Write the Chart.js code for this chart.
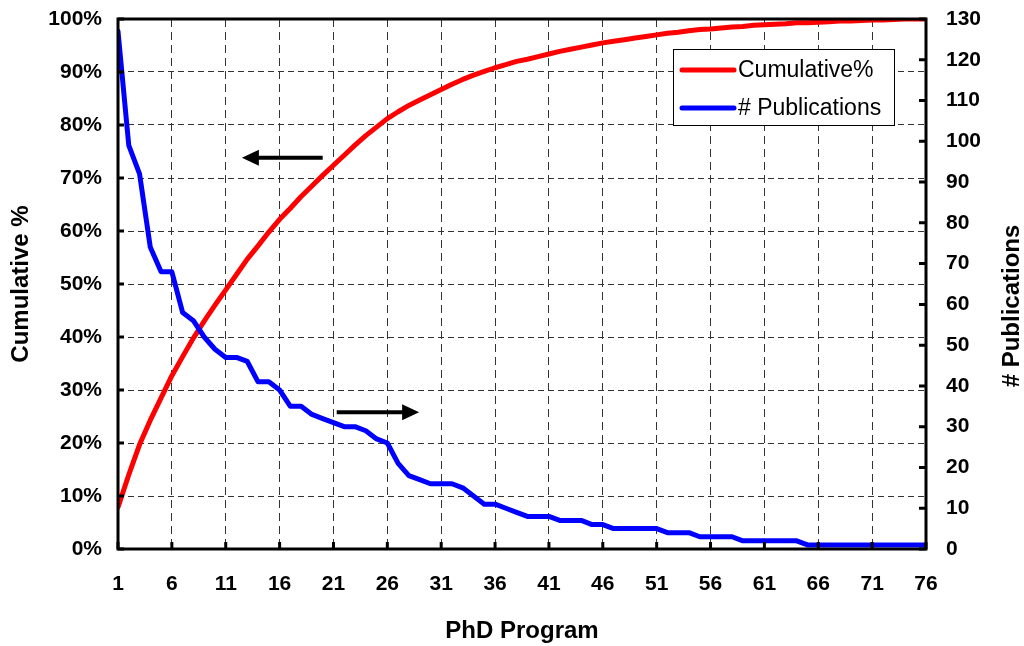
<!DOCTYPE html>
<html>
<head>
<meta charset="utf-8">
<script src="https://cdn.jsdelivr.net/npm/chart.js@4"></script>
<style>
  html, body { margin: 0; padding: 0; background: #fff; }
  #wrap { width: 1024px; height: 646px; }
</style>
</head>
<body>
<div id="wrap"><canvas id="pareto"></canvas></div>
<script>
var programs = [1, 2, 3, 4, 5, 6, 7, 8, 9, 10, 11, 12, 13, 14, 15, 16, 17, 18, 19, 20,
    21, 22, 23, 24, 25, 26, 27, 28, 29, 30, 31, 32, 33, 34, 35, 36, 37, 38, 39, 40,
    41, 42, 43, 44, 45, 46, 47, 48, 49, 50, 51, 52, 53, 54, 55, 56, 57, 58, 59, 60,
    61, 62, 63, 64, 65, 66, 67, 68, 69, 70, 71, 72, 73, 74, 75, 76];
var publications = [127, 99, 92, 74, 68, 68, 58, 56, 52, 49,
    47, 47, 46, 41, 41, 39, 35, 35, 33, 32,
    31, 30, 30, 29, 27, 26, 21, 18, 17, 16,
    16, 16, 15, 13, 11, 11, 10, 9, 8, 8,
    8, 7, 7, 7, 6, 6, 5, 5, 5, 5,
    5, 4, 4, 4, 3, 3, 3, 3, 2, 2,
    2, 2, 2, 2, 1, 1, 1, 1, 1, 1,
    1, 1, 1, 1, 1, 1];
var cumulative = [7.9, 14.0, 19.7, 24.3, 28.5, 32.7, 36.3, 39.8, 43.0, 46.0,
    48.9, 51.8, 54.7, 57.2, 59.8, 62.2, 64.3, 66.5, 68.5, 70.5,
    72.4, 74.3, 76.2, 78.0, 79.6, 81.2, 82.5, 83.7, 84.7, 85.7,
    86.7, 87.7, 88.6, 89.4, 90.1, 90.8, 91.4, 92.0, 92.4, 92.9,
    93.4, 93.9, 94.3, 94.7, 95.1, 95.5, 95.8, 96.1, 96.4, 96.7,
    97.0, 97.3, 97.5, 97.8, 98.0, 98.1, 98.3, 98.5, 98.6, 98.8,
    98.9, 99.0, 99.1, 99.3, 99.3, 99.4, 99.5, 99.6, 99.6, 99.7,
    99.8, 99.8, 99.9, 100.0, 100.0, 100.0];
var xTicks = [1, 6, 11, 16, 21, 26, 31, 36, 41, 46, 51, 56, 61, 66, 71, 76];

var FONT = '"Liberation Sans", Arial, sans-serif';

function points(values) {
    return programs.map(function(p, i) { return { x: p, y: values[i] }; });
}

function fixWidth(w) {
    return function(scale) {
        scale.width = w;
        scale.paddingTop = 0;
        scale.paddingBottom = 0;
    };
}

// frame, inward tick marks, arrows, legend and the right title
var extras = {
    id: 'extras',
    afterDatasetsDraw: function(chart) {
        var ctx = chart.ctx;
        var a = chart.chartArea;
        var sx = chart.scales.x, sy = chart.scales.y, sy2 = chart.scales.y2;
        ctx.save();
        ctx.strokeStyle = '#000';
        ctx.lineWidth = 3;
        ctx.beginPath();
        sx.ticks.forEach(function(t) {
            var px = sx.getPixelForValue(t.value);
            ctx.moveTo(px, a.bottom); ctx.lineTo(px, a.bottom - 7);
        });
        sy.ticks.forEach(function(t) {
            var py = sy.getPixelForValue(t.value);
            ctx.moveTo(a.left, py); ctx.lineTo(a.left + 6, py);
        });
        sy2.ticks.forEach(function(t) {
            var py = sy2.getPixelForValue(t.value);
            ctx.moveTo(a.right, py); ctx.lineTo(a.right - 7, py);
        });
        ctx.stroke();
        ctx.strokeRect(a.left, a.top, a.right - a.left, a.bottom - a.top);

        // arrows pointing at the axis each line belongs to
        function arrow(x0, x1, yv) {
            var p0 = sx.getPixelForValue(x0), p1 = sx.getPixelForValue(x1);
            var py = sy.getPixelForValue(yv);
            var dir = p1 > p0 ? 1 : -1;
            ctx.fillStyle = '#000';
            ctx.lineWidth = 4;
            ctx.beginPath();
            ctx.moveTo(p0, py); ctx.lineTo(p1 - dir * 14, py);
            ctx.stroke();
            ctx.beginPath();
            ctx.moveTo(p1, py);
            ctx.lineTo(p1 - dir * 17, py - 8);
            ctx.lineTo(p1 - dir * 17, py + 8);
            ctx.closePath();
            ctx.fill();
        }
        arrow(20.0, 12.5, 73.8);
        arrow(21.3, 28.95, 25.8);

        // legend
        var lx = 673, ly = 49, lw = 221, lh = 76;
        ctx.fillStyle = '#fff';
        ctx.fillRect(lx, ly, lw, lh);
        ctx.lineWidth = 1;
        ctx.strokeStyle = '#000';
        ctx.strokeRect(lx + 0.5, ly + 0.5, lw, lh);
        ctx.font = '23px ' + FONT;
        ctx.textBaseline = 'middle';
        ctx.textAlign = 'left';
        chart.data.datasets.forEach(function(ds, i) {
            var ry = ly + 21 + i * 38;
            ctx.strokeStyle = ds.borderColor;
            ctx.lineWidth = 5;
            ctx.lineCap = 'round';
            ctx.beginPath();
            ctx.moveTo(lx + 9, ry); ctx.lineTo(lx + 61, ry);
            ctx.stroke();
            ctx.fillStyle = '#000';
            ctx.fillText(ds.label, lx + 65, ry + 1);
        });

        // right axis title reads bottom to top
        ctx.save();
        ctx.translate(1012, (a.top + a.bottom) / 2 + 22);
        ctx.rotate(-Math.PI / 2);
        ctx.font = 'bold 24px ' + FONT;
        ctx.textAlign = 'center';
        ctx.textBaseline = 'middle';
        ctx.fillStyle = '#000';
        ctx.fillText('# Publications', 0, 0);
        ctx.restore();
        ctx.restore();
    }
};

new Chart(document.getElementById('pareto'), {
    type: 'line',
    data: {
        datasets: [
            {
                label: 'Cumulative%',
                data: points(cumulative),
                yAxisID: 'y',
                borderColor: '#FF0000',
                borderWidth: 5,
                pointRadius: 0,
                tension: 0,
                borderJoinStyle: 'round',
                borderCapStyle: 'round',
                order: 2
            },
            {
                label: '# Publications',
                data: points(publications),
                yAxisID: 'y2',
                borderColor: '#0000FF',
                borderWidth: 5,
                pointRadius: 0,
                tension: 0,
                borderJoinStyle: 'round',
                borderCapStyle: 'round',
                order: 1
            }
        ]
    },
    options: {
        responsive: true,
        maintainAspectRatio: false,
        animation: false,
        layout: { padding: { top: 19, left: 0, right: 0, bottom: 0 } },
        plugins: {
            legend: { display: false },
            tooltip: { enabled: false }
        },
        scales: {
            x: {
                type: 'linear',
                min: 1,
                max: 76,
                afterBuildTicks: function(scale) {
                    scale.ticks = xTicks.map(function(v) { return { value: v }; });
                },
                afterFit: function(scale) {
                    scale.height = 97;
                    scale.paddingLeft = 0;
                    scale.paddingRight = 0;
                },
                ticks: {
                    color: '#000',
                    font: { family: FONT, size: 21, weight: 'bold' },
                    padding: 23,
                    maxRotation: 0,
                    autoSkip: false
                },
                grid: { color: '#333', lineWidth: 1, drawTicks: false },
                border: { display: false, dash: [8, 5] },
                title: {
                    display: true,
                    text: 'PhD Program',
                    color: '#000',
                    font: { family: FONT, size: 24, weight: 'bold', lineHeight: 1 },
                    padding: { top: 0, bottom: 3 }
                }
            },
            y: {
                position: 'left',
                min: 0,
                max: 100,
                afterFit: fixWidth(118),
                ticks: {
                    stepSize: 10,
                    color: '#000',
                    font: { family: FONT, size: 21, weight: 'bold' },
                    padding: 16,
                    callback: function(v) { return v + '%'; }
                },
                grid: { color: '#333', lineWidth: 1, drawTicks: false },
                border: { display: false, dash: [6, 4] },
                title: {
                    display: true,
                    text: 'Cumulative %',
                    color: '#000',
                    font: { family: FONT, size: 24, weight: 'bold', lineHeight: 1 },
                    padding: { top: 9, bottom: 0 }
                }
            },
            y2: {
                position: 'right',
                min: 0,
                max: 130,
                afterFit: fixWidth(98),
                ticks: {
                    stepSize: 10,
                    color: '#000',
                    font: { family: FONT, size: 21, weight: 'bold' },
                    padding: 20
                },
                grid: { display: false, drawTicks: false },
                border: { display: false }
            }
        }
    },
    plugins: [extras]
});
</script>
</body>
</html>
